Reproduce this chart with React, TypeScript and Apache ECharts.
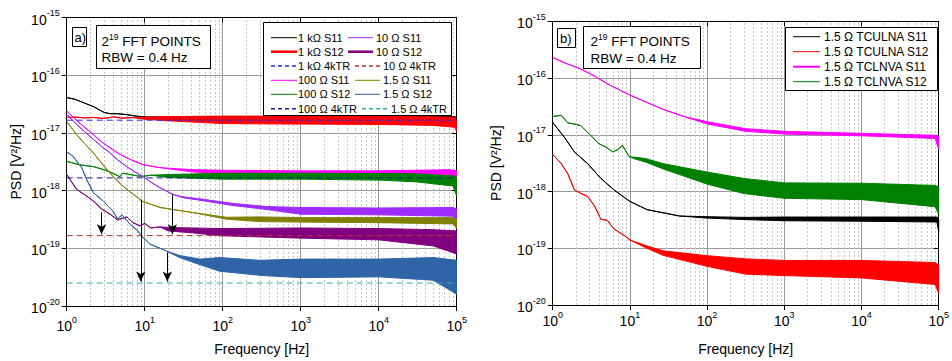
import React, { useEffect, useRef } from 'react';
import * as echarts from 'echarts';

// ---------- DATA : [frequency Hz, low, high?] ----------
// Panel a)
const A_1K_S11 = [[1, 4.1e-17], [1.3, 3.8e-17], [1.63, 3.35e-17], [2.2, 2.85e-17], [3, 2.27e-17], [3.6, 2.15e-17], [4.5, 2.15e-17], [5.9, 2.07e-17], [7.9, 1.95e-17], [10.7, 1.88e-17], [20, 1.82e-17, 1.9e-17], [100, 1.75e-17, 1.93e-17], [1e3, 1.75e-17, 1.93e-17], [1e4, 1.72e-17, 1.93e-17], [9e4, 1.7e-17, 1.93e-17], [1e5, 1.4e-17, 1.88e-17]];
const A_1K_S12 = [[1, 1.85e-17], [1.3, 1.88e-17], [1.7, 1.82e-17], [2.2, 1.85e-17], [3, 1.78e-17], [4, 1.9e-17], [5, 1.8e-17], [7, 1.85e-17], [10, 1.72e-17, 1.88e-17], [20, 1.62e-17, 1.92e-17], [100, 1.45e-17, 1.95e-17], [1e3, 1.42e-17, 1.95e-17], [1e4, 1.4e-17, 1.93e-17], [5e4, 1.35e-17, 1.9e-17], [9.5e4, 1.25e-17, 1.85e-17], [1e5, 1.05e-17, 1.6e-17]];
const A_100_S11 = [[1, 2.4e-17], [1.34, 1.65e-17], [1.7, 1.25e-17], [2.2, 9.3e-18], [2.8, 7e-18], [3.6, 5.5e-18], [4.5, 4.5e-18], [5.9, 3.7e-18], [7.5, 3.2e-18], [9.6, 2.8e-18], [15.7, 2.5e-18], [25, 2.3e-18, 2.4e-18], [42, 2.1e-18, 2.3e-18], [112, 1.95e-18, 2.25e-18], [1e3, 1.88e-18, 2.2e-18], [1e4, 1.88e-18, 2.2e-18], [8e4, 1.88e-18, 2.3e-18], [1e5, 1.6e-18, 2.2e-18]];
const A_100_S12 = [[1, 3.2e-18], [1.48, 2.8e-18], [2.2, 2.6e-18], [3, 2.3e-18], [3.6, 2.1e-18], [4.8, 1.74e-18], [5.2, 2.0e-18], [6.5, 1.9e-18], [8, 1.8e-18], [9.6, 1.77e-18], [12, 1.85e-18], [20, 1.68e-18, 1.9e-18], [100, 1.58e-18, 2.0e-18], [1e3, 1.58e-18, 2.0e-18], [1e4, 1.52e-18, 1.98e-18], [3e4, 1.42e-18, 1.95e-18], [9e4, 1.2e-18, 1.8e-18], [1e5, 8e-19, 1.7e-18]];
const A_10_S11 = [[1, 2.1e-17], [1.34, 1.4e-17], [1.7, 1.05e-17], [2.2, 7.7e-18], [2.8, 5.8e-18], [3.6, 4.5e-18], [4.5, 3.4e-18], [5.9, 2.6e-18], [7.5, 2.1e-18], [9.6, 1.74e-18], [12, 1.4e-18], [15.7, 1.12e-18], [23, 8.6e-19], [31, 7.5e-19, 7.8e-19], [51, 6.8e-19, 7.2e-19], [136, 5.5e-19, 6.0e-19], [367, 4.7e-19, 5.3e-19], [1e3, 3.9e-19, 5.1e-19], [1e4, 3.8e-19, 5.0e-19], [9e4, 3.6e-19, 5.1e-19], [1e5, 2.8e-19, 4.8e-19]];
const A_10_S12 = [[1, 1.9e-18], [1.34, 1.05e-18], [1.7, 8.5e-19], [2.2, 6.6e-19], [2.8, 4.8e-19], [3.6, 3.9e-19], [4.5, 3.1e-19], [5.9, 3.5e-19], [7, 2.8e-19], [8.7, 2.45e-19], [10, 2.7e-19], [12, 2.25e-19], [15.7, 2.35e-19], [20, 2.0e-19, 2.3e-19], [42, 1.85e-19, 2.25e-19], [92, 1.65e-19, 2.2e-19], [1e3, 1.5e-19, 2.25e-19], [1e4, 1.4e-19, 2.2e-19], [5e4, 1.1e-19, 2.1e-19], [1e5, 8e-20, 2.0e-19]];
const A_15_S11 = [[1, 1.58e-17], [1.34, 9.3e-18], [1.7, 6.5e-18], [2.2, 4.5e-18], [2.8, 3e-18], [3.6, 2.0e-18], [4.5, 1.45e-18], [5.9, 1.05e-18], [8.2, 7.5e-19], [9.1, 6.6e-19], [15.7, 5.1e-19], [42, 4.15e-19], [112, 3.2e-19, 3.45e-19], [300, 2.9e-19, 3.5e-19], [1e3, 2.85e-19, 3.4e-19], [1e4, 2.78e-19, 3.4e-19], [9e4, 2.65e-19, 3.4e-19], [1e5, 2.2e-19, 3.2e-19]];
const A_15_S12 = [[1, 4.7e-18], [1.2, 3.95e-18], [1.56, 2.5e-18], [1.8, 1.56e-18], [2.2, 9.2e-19], [2.93, 6.6e-19], [3.93, 4.4e-19], [4.5, 3.2e-19], [5.1, 3.8e-19], [6.5, 2.6e-19], [7.9, 2.1e-19], [9.1, 1.64e-19], [11.7, 1.18e-19], [19, 9e-20], [28, 6.9e-20, 7.5e-20], [51, 5.2e-20, 6.5e-20], [92, 4.0e-20, 6.9e-20], [300, 3.4e-20, 6.2e-20], [1e3, 3.1e-20, 6.5e-20], [1e4, 3.2e-20, 6.5e-20], [5e4, 2.8e-20, 6.9e-20], [1e5, 1.6e-20, 6.2e-20]];
const A_4KTR = [1.66e-17, 1.66e-18, 1.66e-19, 2.5e-20]; // 1 kΩ, 100 Ω, 10 Ω, 1.5 Ω
const A_ARROW_F = [2.8, 8.9, 22.6, 19.5];
const A_ARROW_FROM = [4.2e-19, 7.0e-19, 8.6e-19, 8.5e-20];
const A_ARROW_TO = [1.75e-19, 2.65e-20, 1.75e-19, 2.65e-20];

// Panel b)
const B_ULNA_S11 = [[1, 1.65e-17], [1.42, 9e-18], [1.91, 5e-18], [2.83, 3.1e-18], [4.2, 1.71e-18], [6.2, 1.07e-18], [10, 6.7e-19], [16.6, 4.8e-19], [44, 3.7e-19], [100, 3.4e-19, 3.6e-19], [317, 3.2e-19, 3.5e-19], [1e3, 3.05e-19, 3.55e-19], [1e4, 3.0e-19, 3.55e-19], [9.5e4, 2.9e-19, 3.55e-19], [1e5, 1.9e-19, 3.3e-19]];
const B_ULNA_S12 = [[1, 4.5e-18], [1.29, 3.1e-18], [1.57, 2.05e-18], [1.91, 1.07e-18], [2.3, 9.3e-19], [2.83, 8.2e-19], [3.5, 5.5e-19], [4.2, 3.25e-19], [5.1, 3.1e-19], [6.2, 2.2e-19], [7.3, 1.9e-19], [8.35, 1.7e-19], [10, 1.4e-19], [16.6, 1.0e-19, 1.1e-19], [27, 7.5e-20, 9e-20], [100, 4.8e-20, 7.4e-20], [317, 3.5e-20, 6.5e-20], [1e3, 3.3e-20, 6.1e-20], [1e4, 3.0e-20, 6.1e-20], [9e4, 2.3e-20, 5.6e-20], [1e5, 1.6e-20, 5e-20]];
const B_LNVA_S11 = [[1, 2.3e-16], [1.5, 1.8e-16], [2.3, 1.45e-16], [3.66, 1.04e-16], [5.5, 7.5e-17], [10, 5e-17], [27, 2.8e-17], [50, 2.1e-17], [100, 1.55e-17, 1.7e-17], [317, 1.15e-17, 1.28e-17], [1e3, 1.03e-17, 1.15e-17], [1e4, 0.96e-17, 1.06e-17], [9e4, 0.86e-17, 0.98e-17], [1e5, 5.5e-18, 9.5e-18]];
const B_LNVA_S12 = [[1, 2.1e-17], [1.29, 2.2e-17], [1.57, 1.62e-17], [2.03, 1.52e-17], [2.3, 1.45e-17], [3.0, 1.02e-17], [4.0, 6.9e-18], [5, 6e-18], [6, 5e-18], [7, 5.5e-18], [8, 6.5e-18], [9.8, 4.1e-18], [12, 3.7e-18, 4.0e-18], [16, 3.3e-18, 3.8e-18], [27, 2.5e-18, 3.1e-18], [100, 1.35e-18, 2.2e-18], [300, 9.2e-19, 1.7e-18], [1e3, 7.6e-19, 1.42e-18], [1e4, 7.2e-19, 1.4e-18], [9e4, 5.4e-19, 1.28e-18], [1e5, 4e-19, 1.2e-18]];

const X_TICKS = [1, 10, 100, 1000, 10000, 100000];
const Y_TICKS = [1e-20, 1e-19, 1e-18, 1e-17, 1e-16, 1e-15];

// ---------- helpers ----------
const FONT = '"Liberation Sans", Arial, Helvetica, sans-serif';

function band(name: string, pts: number[][], color: string, axis: number, z: number) {
  const segs: number[][] = [];
  for (let i = 0; i < pts.length - 1; i++) {
    const a = pts[i], b = pts[i + 1];
    segs.push([a[0], a[1], a[2] ?? a[1], b[0], b[1], b[2] ?? b[1]]);
  }
  return {
    type: 'custom', name, xAxisIndex: axis, yAxisIndex: axis, z, silent: true, clip: true,
    data: segs,
    encode: { x: [0, 3], y: [1, 2, 4, 5] },
    renderItem: (_p: any, api: any) => {
      const p0 = api.coord([api.value(0), api.value(2)]);
      const p1 = api.coord([api.value(3), api.value(5)]);
      const p2 = api.coord([api.value(3), api.value(4)]);
      const p3 = api.coord([api.value(0), api.value(1)]);
      return {
        type: 'polygon',
        shape: { points: [p0, p1, p2, p3] },
        style: { fill: color, stroke: color, lineWidth: 1, lineJoin: 'round' },
      };
    },
  };
}

function dashed(name: string, v: number, color: string, axis: number) {
  return {
    type: 'line', name, xAxisIndex: axis, yAxisIndex: axis, z: 5, silent: true,
    showSymbol: false, symbol: 'none',
    data: [[X_TICKS[0], v], [X_TICKS[X_TICKS.length - 1], v]],
    lineStyle: { color, width: 1, type: [6, 4] },
  };
}

const MULT = [2, 3, 4, 5, 6, 7, 8, 9];
function minorGrid(axis: number) {
  const data: any[] = [];
  for (let i = 0; i < X_TICKS.length - 1; i++) MULT.forEach((m) => data.push({ xAxis: X_TICKS[i] * m }));
  for (let i = 0; i < Y_TICKS.length - 1; i++) MULT.forEach((m) => data.push({ yAxis: Y_TICKS[i] * m }));
  return {
    type: 'line', xAxisIndex: axis, yAxisIndex: axis, z: 0, zlevel: 0, silent: true, data: [],
    markLine: {
      z: 0, silent: true, symbol: 'none', label: { show: false },
      lineStyle: { color: '#c4c4c4', width: 1, type: [2, 2] },
      data,
    },
  };
}

const supFmt = (v: number) => `{b|10}{s|${Math.round(Math.log10(v))}}`;
const supRich = {
  b: { fontSize: 14, fontFamily: FONT, color: '#000', lineHeight: 18, verticalAlign: 'bottom' },
  s: { fontSize: 9, fontFamily: FONT, color: '#000', lineHeight: 18, verticalAlign: 'top' },
};

function axesFor(grid: number, xMargin: number, yNameGap: number, xNameGap: number) {
  const xMain = {
    type: 'log', logBase: 10, gridIndex: grid, min: X_TICKS[0], max: X_TICKS[X_TICKS.length - 1], position: 'bottom',
    name: 'Frequency [Hz]', nameLocation: 'middle', nameGap: xNameGap,
    nameTextStyle: { fontSize: 14, fontFamily: FONT, color: '#000' },
    axisLine: { lineStyle: { color: '#000', width: 1 } },
    axisTick: { show: true, inside: false, length: 5, lineStyle: { color: '#000' } },
    axisLabel: { formatter: supFmt, rich: supRich, margin: xMargin, showMinLabel: true, showMaxLabel: true },
    splitLine: { show: true, lineStyle: { color: '#9a9a9a', width: 1 } },
  };
  const xTop = {
    type: 'log', logBase: 10, gridIndex: grid, min: X_TICKS[0], max: X_TICKS[X_TICKS.length - 1], position: 'top',
    axisLine: { lineStyle: { color: '#000', width: 1 } },
    axisTick: { show: true, inside: true, length: 5, lineStyle: { color: '#000' } },
    axisLabel: { show: false }, splitLine: { show: false },
  };
  const yMain = {
    type: 'log', logBase: 10, gridIndex: grid, min: Y_TICKS[0], max: Y_TICKS[Y_TICKS.length - 1], position: 'left',
    name: 'PSD [V²/Hz]', nameLocation: 'middle', nameGap: yNameGap,
    nameTextStyle: { fontSize: 14, fontFamily: FONT, color: '#000' },
    axisLine: { show: true, lineStyle: { color: '#000', width: 1 } },
    axisTick: { show: true, inside: false, length: 5, lineStyle: { color: '#000' } },
    axisLabel: { formatter: supFmt, rich: supRich, margin: 7, showMinLabel: true, showMaxLabel: true },
    splitLine: { show: true, lineStyle: { color: '#9a9a9a', width: 1 } },
  };
  const yRight = {
    type: 'log', logBase: 10, gridIndex: grid, min: Y_TICKS[0], max: Y_TICKS[Y_TICKS.length - 1], position: 'right',
    axisLine: { show: true, lineStyle: { color: '#000', width: 1 } },
    axisTick: { show: true, inside: true, length: 5, lineStyle: { color: '#000' } },
    axisLabel: { show: false }, splitLine: { show: false },
  };
  return { x: [xMain, xTop], y: [yMain, yRight] };
}

const boxTitleRich = {
  b: { fontSize: 13.5, fontFamily: FONT, color: '#000', lineHeight: 16, verticalAlign: 'bottom' },
  s: { fontSize: 8.5, fontFamily: FONT, color: '#000', lineHeight: 16, verticalAlign: 'top' },
};

function txt(x: number, y: number, text: string, size: number, extra: any = {}) {
  return {
    type: 'text', x, y, z: 100, silent: true,
    style: { text, fontSize: size, fontFamily: FONT, fill: '#000', verticalAlign: 'middle', align: 'left', ...extra },
  };
}
function rect(x: number, y: number, w: number, h: number) {
  return { type: 'rect', z: 99, silent: true, shape: { x, y, width: w, height: h }, style: { fill: '#fff', stroke: '#000', lineWidth: 1 } };
}
function legLine(x1: number, x2: number, y: number, color: string, width = 1, dash: any = null) {
  return {
    type: 'line', z: 100, silent: true, shape: { x1, y1: y, x2, y2: y },
    style: { stroke: color, lineWidth: width, lineDash: dash },
  };
}

const C = {
  black: '#000000', red: '#ff0000', blueDash: '#2828ff', magenta: '#ff00ff', green: '#008000', navyDash: '#1a1a99',
  violet: '#9f2cff', purple: '#800080', redDash: '#b83232', olive: '#808000', steel: '#2f64a6', tealDash: '#2eb0a8',
};

export default function App() {
  const ref = useRef<HTMLDivElement>(null);
  useEffect(() => {
    const chart = echarts.init(ref.current!, undefined, { renderer: 'svg' });
    const ax0 = axesFor(0, 9, 44, 36);
    const ax1 = axesFor(1, 5, 50, 37);
    const arrowData = A_ARROW_F.map((f, i) => [
      { coord: [f, A_ARROW_FROM[i]], symbol: 'none' },
      { coord: [f, A_ARROW_TO[i]], symbol: 'arrow' },
    ]);
    const D = [4, 3];
    const option: any = {
      animation: false,
      backgroundColor: '#fff',
      grid: [
        { left: 66.7, top: 17.5, width: 390, height: 289.5 },
        { left: 552.7, top: 21.3, width: 390.6, height: 290 },
      ],
      xAxis: [...ax0.x, ...ax1.x.map((a: any) => ({ ...a, gridIndex: 1 }))],
      yAxis: [...ax0.y, ...ax1.y.map((a: any) => ({ ...a, gridIndex: 1 }))],
      series: [
        minorGrid(0),
        band('1 kΩ S11', A_1K_S11, C.black, 0, 2),
        band('1 kΩ S12', A_1K_S12, C.red, 0, 2),
        band('100 Ω S11', A_100_S11, C.magenta, 0, 2),
        band('100 Ω S12', A_100_S12, C.green, 0, 2),
        band('10 Ω S11', A_10_S11, C.violet, 0, 2),
        band('10 Ω S12', A_10_S12, C.purple, 0, 2),
        band('1.5 Ω S11', A_15_S11, C.olive, 0, 2),
        band('1.5 Ω S12', A_15_S12, C.steel, 0, 2),
        dashed('1 kΩ 4kTR', A_4KTR[0], C.blueDash, 0),
        dashed('100 Ω 4kTR', A_4KTR[1], C.navyDash, 0),
        dashed('10 Ω 4kTR', A_4KTR[2], C.redDash, 0),
        dashed('1.5 Ω 4kTR', A_4KTR[3], C.tealDash, 0),
        {
          type: 'line', xAxisIndex: 0, yAxisIndex: 0, z: 6, silent: true, data: [],
          markLine: {
            z: 6, silent: true, symbolSize: [7, 10], label: { show: false },
            lineStyle: { color: '#000', width: 1, type: 'solid' },
            data: arrowData,
          },
        },
        minorGrid(2),
        band('1.5 Ω TCULNA S11', B_ULNA_S11, C.black, 2, 2),
        band('1.5 Ω TCULNA S12', B_ULNA_S12, C.red, 2, 2),
        band('1.5 Ω TCLNVA S11', B_LNVA_S11, C.magenta, 2, 2),
        band('1.5 Ω TCLNVA S12', B_LNVA_S12, C.green, 2, 2),
      ],
      graphic: [
        // panel a annotations
        rect(72.5, 27.5, 14, 19), txt(74.5, 37.5, 'a)', 13),
        rect(96.5, 25.5, 114, 43),
        txt(101.5, 40, '{b|2}{s|19}{b| FFT POINTS}', 13.5, { rich: boxTitleRich }),
        txt(101.5, 57.5, 'RBW = 0.4 Hz', 13.5),
        rect(263.5, 22.5, 188, 93),
        legLine(271, 297, 37.7, C.black), txt(298, 37.7, '1 kΩ S11', 11),
        legLine(271, 297, 51.7, C.red, 2.5), txt(298, 51.7, '1 kΩ S12', 11),
        legLine(271, 297, 66, C.blueDash, 1.5, D), txt(298, 66, '1 kΩ 4kTR', 11),
        legLine(271, 297, 80.3, C.magenta), txt(298, 80.3, '100 Ω S11', 11),
        legLine(271, 297, 94.3, C.green), txt(298, 94.3, '100 Ω S12', 11),
        legLine(271, 297, 108.7, C.navyDash, 1.5, D), txt(298, 108.7, '100 Ω 4kTR', 11),
        legLine(348, 373, 37.7, C.violet), txt(376, 37.7, '10 Ω S11', 11),
        legLine(348, 373, 51.7, C.purple, 2.5), txt(376, 51.7, '10 Ω S12', 11),
        legLine(355, 380, 66, C.redDash, 1.5, D), txt(383, 66, '10 Ω 4kTR', 11),
        legLine(355, 380, 80.3, C.olive), txt(383, 80.3, '1.5 Ω S11', 11),
        legLine(355, 380, 94.3, C.steel), txt(383, 94.3, '1.5 Ω S12', 11),
        legLine(362, 388, 108.7, C.tealDash, 1.5, D), txt(391, 108.7, '1.5 Ω 4kTR', 11),
        // panel b annotations
        rect(557.5, 28.5, 18, 19), txt(560, 38, 'b)', 13),
        rect(583.5, 26.5, 117, 42),
        txt(590.5, 40.5, '{b|2}{s|19}{b| FFT POINTS}', 13.5, { rich: boxTitleRich }),
        txt(590.5, 58, 'RBW = 0.4 Hz', 13.5),
        rect(785.5, 27.5, 152, 63),
        legLine(793, 820, 36.7, C.black), txt(824, 36.7, '1.5 Ω TCULNA S11', 12),
        legLine(793, 820, 51.7, C.red), txt(824, 51.7, '1.5 Ω TCULNA S12', 12),
        legLine(793, 820, 66.7, C.magenta, 2), txt(824, 66.7, '1.5 Ω TCLNVA S11', 12),
        legLine(793, 820, 81.7, C.green), txt(824, 81.7, '1.5 Ω TCLNVA S12', 12),
      ],
    };
    chart.setOption(option);
    return () => chart.dispose();
  }, []);
  return <div ref={ref} style={{ position: 'absolute', left: 0, top: 0, width: 952, height: 361, background: '#fff' }} />;
}
